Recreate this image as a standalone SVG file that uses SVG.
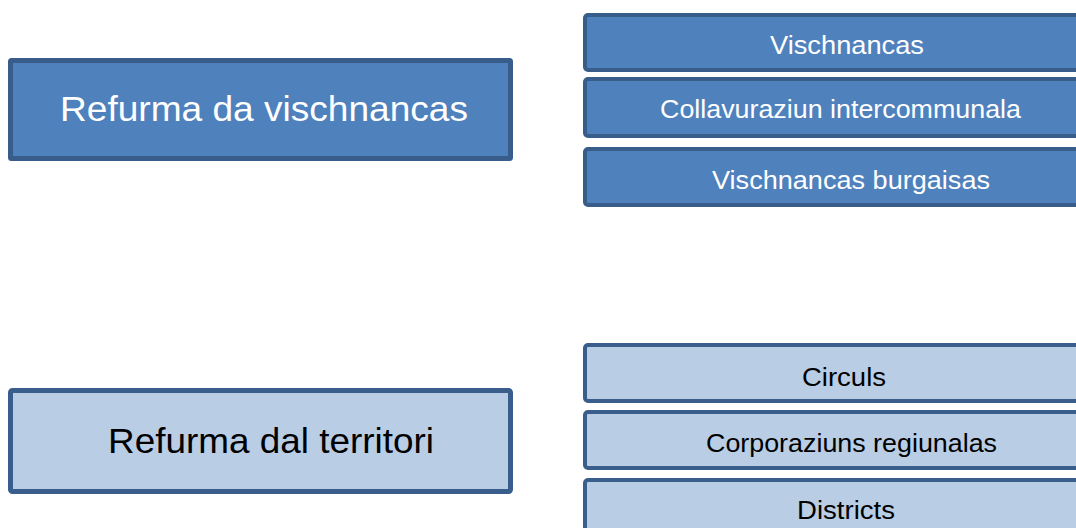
<svg xmlns="http://www.w3.org/2000/svg" width="1076" height="528" viewBox="0 0 1076 528">
<style>
.dk rect{fill:#4F81BD;stroke:#385D8A;stroke-width:5}
.lt rect{fill:#B9CDE5;stroke:#3A5E8C;stroke-width:5}
.sm rect{stroke-width:4}
text{font-family:"Liberation Sans",Arial,sans-serif;text-anchor:middle}
.dk text{fill:#FFFFFF}
.lt text{fill:#000000}
.big{font-size:35px}
.small{font-size:25.5px}
</style>
<g id="node-refurma-vischnancas" class="dk">
<rect x="10.5" y="60.5" width="500" height="98" rx="1"/>
<text class="big" x="264" y="121" textLength="408" lengthAdjust="spacingAndGlyphs">Refurma da vischnancas</text>
</g>
<g id="node-refurma-territori" class="lt">
<rect x="10.5" y="390.5" width="500" height="101" rx="2"/>
<text class="big" x="271" y="453" textLength="326" lengthAdjust="spacingAndGlyphs">Refurma dal territori</text>
</g>
<g id="node-vischnancas" class="dk sm">
<rect x="585" y="15" width="510" height="55" rx="3"/>
<text class="small" x="847" y="54" textLength="154" lengthAdjust="spacingAndGlyphs">Vischnancas</text>
</g>
<g id="node-collavuraziun" class="dk sm">
<rect x="585" y="79" width="510" height="57" rx="3"/>
<text class="small" x="840.5" y="117.5" textLength="361" lengthAdjust="spacingAndGlyphs">Collavuraziun intercommunala</text>
</g>
<g id="node-vischnancas-burgaisas" class="dk sm">
<rect x="585" y="149" width="510" height="56" rx="3"/>
<text class="small" x="851" y="188.5" textLength="278" lengthAdjust="spacingAndGlyphs">Vischnancas burgaisas</text>
</g>
<g id="node-circuls" class="lt sm">
<rect x="585" y="345" width="510" height="56" rx="3"/>
<text class="small" x="844" y="385.5" textLength="84" lengthAdjust="spacingAndGlyphs">Circuls</text>
</g>
<g id="node-corporaziuns" class="lt sm">
<rect x="585" y="412" width="510" height="56" rx="3"/>
<text class="small" x="851.5" y="451.5" textLength="291" lengthAdjust="spacingAndGlyphs">Corporaziuns regiunalas</text>
</g>
<g id="node-districts" class="lt sm">
<rect x="585" y="480" width="510" height="60" rx="3"/>
<text class="small" x="846" y="518.5" textLength="98" lengthAdjust="spacingAndGlyphs">Districts</text>
</g>
<g id="connectors"></g>
</svg>
